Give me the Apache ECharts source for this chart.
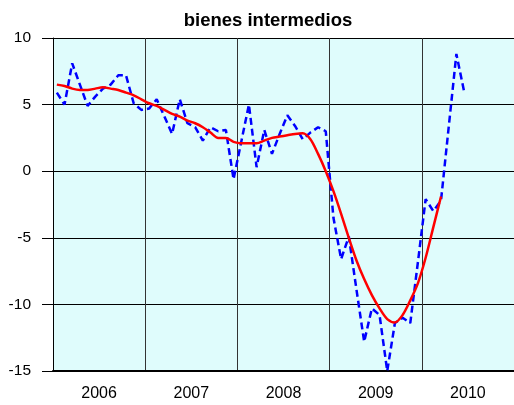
<!DOCTYPE html>
<html>
<head>
<meta charset="utf-8">
<script src="https://cdn.jsdelivr.net/npm/echarts@6/dist/echarts.min.js"></script>
<style>
  html, body { margin: 0; padding: 0; background: #fff; }
  #chart { width: 514px; height: 405px; }
</style>
</head>
<body>
<div id="chart"></div>
<script>
// years shown under the axis (12 months each)
const years = ['2006', '2007', '2008', '2009', '2010'];

// monthly series, blue dashed (Jan 2006 - Jun 2010)
const mensual = [
  5.9, 5.0, 8.1, 6.5, 4.9, 5.6, 6.2, 6.5, 7.2, 7.2, 5.1, 4.6,
  4.7, 5.4, 4.1, 2.8, 5.4, 3.6, 3.3, 2.3, 3.3, 3.0, 3.1, -0.6,
  2.2, 5.0, 0.3, 3.1, 1.3, 2.8, 4.2, 3.4, 2.4, 2.9, 3.3, 3.0,
  -3.5, -6.6, -4.9, -8.9, -12.8, -10.3, -10.8, -15.0, -11.4, -11.0, -11.4, -6.8,
  -2.1, -3.0, -2.2, 3.3, 8.8, 6.0
];

// trend, red (Jan 2006 - Mar 2010)
const tendencia = [
  6.5, 6.4, 6.2, 6.1, 6.1, 6.2, 6.3, 6.2, 6.1, 5.9, 5.7, 5.4,
  5.1, 4.9, 4.6, 4.3, 4.1, 3.8, 3.6, 3.3, 2.9, 2.5, 2.5, 2.2,
  2.1, 2.1, 2.1, 2.3, 2.5, 2.6, 2.7, 2.8, 2.85, 2.4, 1.3, 0.0,
  -1.5, -3.2, -5.0, -6.7, -8.1, -9.3, -10.3, -11.1, -11.35, -10.8, -9.7, -8.4,
  -6.5, -4.2, -1.9
];

const chart = echarts.init(document.getElementById('chart'), null, { renderer: 'canvas' });

// x position = month index, centred in its month slot
const toPoints = arr => arr.map((v, i) => [i + 0.5, v]);

const option = {
  animation: false,
  textStyle: { fontFamily: 'Liberation Sans, Arial, sans-serif' },
  title: {
    text: 'bienes intermedios',
    left: 263,
    textAlign: 'center',
    top: 6,
    textStyle: { fontSize: 18.5, fontWeight: 'bold', color: '#000' }
  },
  grid: {
    left: 53,
    right: 0,
    top: 38,
    bottom: 34,
    show: true,
    backgroundColor: '#dffcfc',
    borderWidth: 0
  },
  xAxis: [
    {
      type: 'value',
      min: 0,
      max: 60,
      interval: 12,
      axisLabel: { show: false },
      axisTick: { show: false },
      axisLine: { show: true, onZero: false, lineStyle: { color: '#000', width: 2 } },
      splitLine: { show: true, lineStyle: { color: '#333', width: 1 } }
    },
    {
      type: 'category',
      data: years,
      position: 'bottom',
      boundaryGap: true,
      axisLine: { show: false },
      axisTick: { show: false },
      splitLine: { show: false },
      axisLabel: { color: '#000', fontSize: 16, margin: 15 }
    }
  ],
  yAxis: {
    type: 'value',
    min: -15,
    max: 10,
    interval: 5,
    axisLine: { show: true, lineStyle: { color: '#000', width: 1 } },
    axisTick: { show: true, length: 11, lineStyle: { color: '#000' } },
    axisLabel: { color: '#000', fontSize: 15.5, margin: 22 },
    splitLine: { show: true, lineStyle: { color: '#000', width: 1 } }
  },
  series: [
    {
      name: 'mensual',
      type: 'line',
      xAxisIndex: 0,
      data: toPoints(mensual),
      showSymbol: false,
      lineStyle: { color: '#0000ff', width: 2.5, type: [7, 4] }
    },
    {
      name: 'tendencia',
      type: 'line',
      xAxisIndex: 0,
      data: toPoints(tendencia),
      showSymbol: false,
      smooth: 0.3,
      lineStyle: { color: '#ff0000', width: 2.5 }
    }
  ]
};

chart.setOption(option);
</script>
</body>
</html>
